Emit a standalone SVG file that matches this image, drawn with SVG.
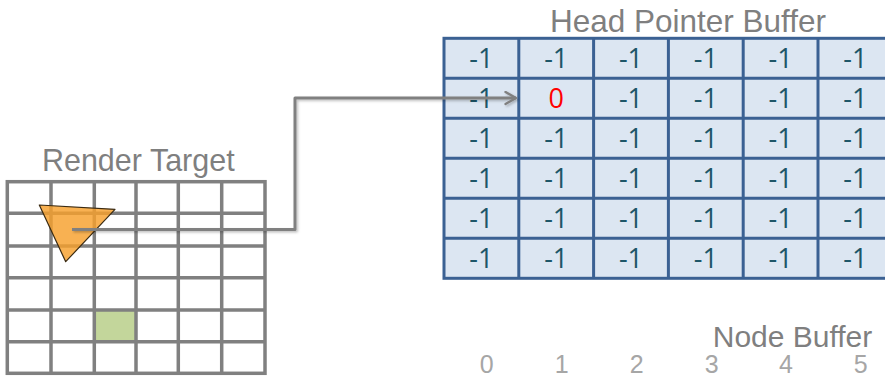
<svg xmlns="http://www.w3.org/2000/svg" width="885" height="376" viewBox="0 0 885 376">
<style>
.lbl{font-family:"Liberation Sans",Arial,sans-serif;fill:#7f7f7f}
.cell{fill:#dce6f2;stroke:#3b6193;stroke-width:3}
.rt{fill:none;stroke:#808080;stroke-width:3.5}
.ct{font-family:"Open Sans",Lato,sans-serif;font-size:27px;fill:#1e5668;text-anchor:middle}
.idx{font-family:"Liberation Sans",Arial,sans-serif;font-size:25px;fill:#a6a6a6;text-anchor:middle}
</style>
<defs>
<marker id="arr" viewBox="0 0 10 10" refX="8" refY="5" markerWidth="5" markerHeight="5" orient="auto" markerUnits="strokeWidth">
<path d="M1,1 L8,5 L1,9" fill="none" stroke="#808080" stroke-width="1.6" stroke-linecap="round" stroke-linejoin="round"/>
</marker>
<filter id="sh" x="-10%" y="-10%" width="120%" height="120%">
<feDropShadow dx="1.5" dy="1.5" stdDeviation="1" flood-color="#000" flood-opacity="0.25"/>
</filter>
</defs>
<rect width="885" height="376" fill="#fff"/>

<g id="head-pointer-buffer">
<text class="lbl" x="688" y="31.5" font-size="31.5" text-anchor="middle">Head Pointer Buffer</text>
<g id="hpb-grid">
<rect class="cell" x="444" y="38.3" width="449" height="240" />
<path d="M518.8,38.3V278.3M593.6,38.3V278.3M668.4,38.3V278.3M743.2,38.3V278.3M818,38.3V278.3M444,78.3H893M444,118.3H893M444,158.3H893M444,198.3H893M444,238.3H893" stroke="#3b6193" stroke-width="3" fill="none"/>
</g>
<g id="hpb-values">
<text class="ct" x="481.4" y="68">-1</text><text class="ct" x="556.2" y="68">-1</text><text class="ct" x="631" y="68">-1</text><text class="ct" x="705.8" y="68">-1</text><text class="ct" x="780.6" y="68">-1</text><text class="ct" x="855.4" y="68">-1</text>
<text class="ct" x="481.4" y="108">-1</text><text class="ct" x="556.2" y="108" style="fill:#ff0000">0</text><text class="ct" x="631" y="108">-1</text><text class="ct" x="705.8" y="108">-1</text><text class="ct" x="780.6" y="108">-1</text><text class="ct" x="855.4" y="108">-1</text>
<text class="ct" x="481.4" y="148">-1</text><text class="ct" x="556.2" y="148">-1</text><text class="ct" x="631" y="148">-1</text><text class="ct" x="705.8" y="148">-1</text><text class="ct" x="780.6" y="148">-1</text><text class="ct" x="855.4" y="148">-1</text>
<text class="ct" x="481.4" y="188">-1</text><text class="ct" x="556.2" y="188">-1</text><text class="ct" x="631" y="188">-1</text><text class="ct" x="705.8" y="188">-1</text><text class="ct" x="780.6" y="188">-1</text><text class="ct" x="855.4" y="188">-1</text>
<text class="ct" x="481.4" y="228">-1</text><text class="ct" x="556.2" y="228">-1</text><text class="ct" x="631" y="228">-1</text><text class="ct" x="705.8" y="228">-1</text><text class="ct" x="780.6" y="228">-1</text><text class="ct" x="855.4" y="228">-1</text>
<text class="ct" x="481.4" y="268">-1</text><text class="ct" x="556.2" y="268">-1</text><text class="ct" x="631" y="268">-1</text><text class="ct" x="705.8" y="268">-1</text><text class="ct" x="780.6" y="268">-1</text><text class="ct" x="855.4" y="268">-1</text>
</g>
</g>

<g id="render-target">
<text class="lbl" x="138.3" y="171" font-size="30.5" text-anchor="middle">Render Target</text>
<rect x="94.3" y="310" width="41.7" height="31.7" fill="#c3d69b"/>
<g id="rt-grid">
<rect class="rt" x="7.3" y="181.7" width="257.7" height="191.6"/>
<path class="rt" d="M51,181.7V373.3M94.3,181.7V373.3M136,181.7V373.3M178.3,181.7V373.3M221.7,181.7V373.3M7.3,213.3H265M7.3,246H265M7.3,277.7H265M7.3,310H265M7.3,341.7H265"/>
</g>
<polygon id="triangle" points="39.3,205 115,209.3 65.7,261.7" fill="#f7a02c" fill-opacity="0.82" stroke="#3a2a12" stroke-width="1.2" stroke-linejoin="round"/>
</g>

<g id="node-buffer">
<text class="lbl" x="792.5" y="346.7" font-size="30" text-anchor="middle">Node Buffer</text>
<text class="idx" x="486.7" y="373">0</text>
<text class="idx" x="561.7" y="373">1</text>
<text class="idx" x="636.7" y="373">2</text>
<text class="idx" x="711.7" y="373">3</text>
<text class="idx" x="786" y="373">4</text>
<text class="idx" x="860.7" y="373">5</text>
</g>

<g id="connectors">
<path d="M72,229.5H295V98H516" fill="none" stroke="#808080" stroke-width="3" stroke-linejoin="round" marker-end="url(#arr)" filter="url(#sh)"/>
</g>
</svg>
